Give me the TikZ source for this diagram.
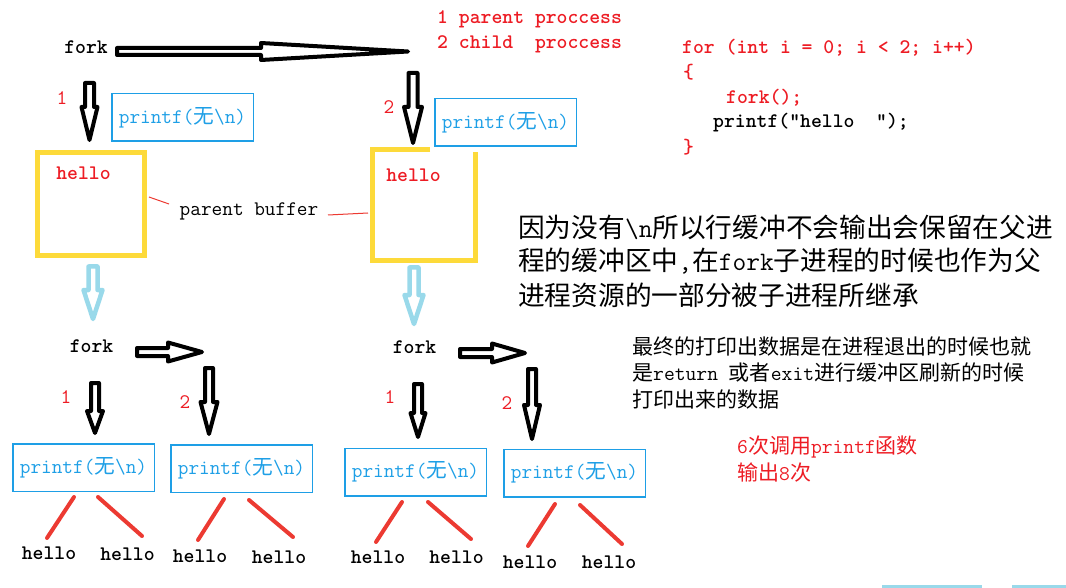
\documentclass[tikz,border=0pt]{standalone}
\usepackage{fontspec}
\newfontfamily\cjk{Noto Sans CJK SC}
\usetikzlibrary{calc}
\definecolor{pred}{HTML}{ED1C24}
\definecolor{lred}{HTML}{EC3A32}
\definecolor{pblue}{HTML}{1E9FE6}
\definecolor{lblue}{HTML}{99D9EA}
\definecolor{gold}{HTML}{FDDA3A}
\newcommand\tfs{\fontsize{20.7}{24}\selectfont}
\newcommand\mybs{\textbackslash}
\newcommand\varrow[7][hollow]{\draw[#1] (#2-#6,#3) -- (#2+#6,#3) -- (#2+#6,#4) -- (#2+#7,#4) -- (#2,#5) -- (#2-#7,#4) -- (#2-#6,#4) -- cycle;}
\newcommand\harrow[6]{\draw[hollow] (#2,#1-#5) -- (#3,#1-#5) -- (#3,#1-#6) -- (#4,#1) -- (#3,#1+#6) -- (#3,#1+#5) -- (#2,#1+#5) -- cycle;}
\tikzset{
 tt/.style={font=\ttfamily\tfs, inner sep=0pt},
 ttb/.style={font=\ttfamily\bfseries\tfs, inner sep=0pt},
 hollow/.style={draw=black, line width=4pt, fill=white, line join=round},
 lhollow/.style={draw=lblue, line width=4.5pt, fill=white, line join=round},
 ybox/.style={draw=gold, line width=5pt},
 pbox/.style={draw=pblue, line width=1.5pt, text=pblue, minimum width=141.5pt, minimum height=47.5pt, inner sep=0pt, font=\ttfamily\tfs},
 rline/.style={draw=lred, line width=4pt, line cap=round},
 thinr/.style={draw=lred, line width=1pt},
 cjkpar/.style={font=\cjk\fontsize{26.7}{30}\selectfont, anchor=west, inner sep=0pt},
 cjknote/.style={font=\cjk\fontsize{21}{24}\selectfont, anchor=west, inner sep=0pt},
}
\begin{document}
\begin{tikzpicture}[x=1pt,y=-1pt]
\path[use as bounding box] (0,0) rectangle (1066,588);

% ---------- top level ----------
\node[ttb] (fork0) at (86,47) {fork};
\harrow{51.5}{117}{261}{408}{3.5}{8.5}
\node[ttb, text=pred, anchor=west] (l1) at (437,19) {1 parent proccess};
\node[ttb, text=pred, anchor=west] (l2) at (437,44) {2 child\ \ proccess};

% code
\node[ttb, text=pred, anchor=west] (c1) at (682,48) {for (int i = 0; i < 2; i++)};
\node[ttb, text=pred, anchor=west] (c2) at (683,72) {\{};
\node[ttb, text=pred, anchor=west] (c3) at (726,98) {fork();};
\node[ttb, text=black, anchor=west] (c4) at (713,123) {printf("hello\ \ ");};
\node[ttb, text=pred, anchor=west] (c5) at (683,147) {\}};

% first-level arrows
\varrow{89.5}{83}{107}{140}{4.5}{8}
\node[tt, text=pred] (n1) at (62,98) {1};
\varrow{413}{73}{107}{143}{4.5}{9}
\node[tt, text=pred] (n2) at (389,107) {2};

\node[pbox] (pb1) at (182.5,117.5) {printf({\cjk 无}\mybs n)};
\node[pbox] (pb2) at (505.5,122.5) {printf({\cjk 无}\mybs n)};

% yellow buffers
\draw[ybox] (37,152.5) rectangle (144.5,255.5);
\draw[ybox] (430,149.5) -- (372.5,149.5) -- (372.5,260.5) -- (475.5,260.5) -- (475.5,152);
\node[ttb, text=pred] (hb1) at (83.5,173) {hello};
\node[ttb, text=pred] (hb2) at (413.5,175) {hello};

\node[tt] (pbuf) at (249,211) {parent buffer};
\draw[thinr] (149,197) -- (169,204);
\draw[thinr] (328,215) -- (368,213);

% light blue arrows
\varrow[lhollow]{93}{266.5}{290}{319}{4.5}{9.5}
\varrow[lhollow]{414}{267.5}{295}{324}{4.5}{9.5}

% ---------- second level, left ----------
\node[ttb] (fork1) at (91.5,346) {fork};
\harrow{352}{137}{168}{202}{4}{9.5}
\varrow{95}{383}{411}{433}{4}{8}
\node[tt, text=pred] (n3) at (66,397) {1};
\varrow{209}{368}{402}{434}{4}{8.5}
\node[tt, text=pred] (n4) at (185,402) {2};
\node[pbox] (pb3) at (83.5,467.5) {printf({\cjk 无}\mybs n)};
\node[pbox] (pb4) at (241.5,468.5) {printf({\cjk 无}\mybs n)};

% ---------- second level, right ----------
\node[ttb] (fork2) at (414.5,347) {fork};
\harrow{353}{460}{492}{525}{4}{9.5}
\varrow{418}{384}{413}{437}{4}{7.5}
\node[tt, text=pred] (n5) at (390,397) {1};
\varrow{532}{369}{405}{439}{4}{8}
\node[tt, text=pred] (n6) at (507,403) {2};
\node[pbox] (pb5) at (415.5,472) {printf({\cjk 无}\mybs n)};
\node[pbox] (pb6) at (574.5,473) {printf({\cjk 无}\mybs n)};

% hellos
\node[ttb] (h1) at (49,553) {hello};
\node[ttb] (h2) at (127.5,554) {hello};
\node[ttb] (h3) at (200,556) {hello};
\node[ttb] (h4) at (279,557) {hello};
\node[ttb] (h5) at (378,557) {hello};
\node[ttb] (h6) at (456.5,557) {hello};
\node[ttb] (h7) at (530,562) {hello};
\node[ttb] (h8) at (609,562) {hello};

\coordinate (a1) at (74,497); \coordinate (a2) at (47,538);
\coordinate (b1) at (98,497); \coordinate (b2) at (142,536);
\coordinate (c1s) at (224,499); \coordinate (c2s) at (198,540);
\coordinate (d1) at (249,500); \coordinate (d2) at (293,537);
\coordinate (e1) at (402,502); \coordinate (e2) at (376,542);
\coordinate (f1) at (428,502); \coordinate (f2) at (471,539);
\coordinate (g1) at (555,504); \coordinate (g2) at (528,546);
\coordinate (k1) at (580,505); \coordinate (k2) at (622,544);
\draw[rline] (a1) -- (a2);
\draw[rline] (b1) -- (b2);
\draw[rline] (c1s) -- (c2s);
\draw[rline] (d1) -- (d2);
\draw[rline] (e1) -- (e2);
\draw[rline] (f1) -- (f2);
\draw[rline] (g1) -- (g2);
\draw[rline] (k1) -- (k2);

% ---------- explanations ----------
\node[cjkpar] (p1) at (518,227) {因为没有{\ttfamily\mybs n}所以行缓冲不会输出会保留在父进};
\node[cjkpar] (p2) at (518,261) {程的缓冲区中{\ttfamily ,}在{\ttfamily fork}子进程的时候也作为父};
\node[cjkpar] (p3) at (518,295) {进程资源的一部分被子进程所继承};

\node[cjknote] (q1) at (632,347) {最终的打印出数据是在进程退出的时候也就};
\node[cjknote] (q2) at (632,373) {是{\ttfamily return\ }或者{\ttfamily exit}进行缓冲区刷新的时候};
\node[cjknote] (q3) at (632,400) {打印出来的数据};

\node[cjknote, text=pred] (r1) at (737,447) {{\ttfamily 6}次调用{\ttfamily printf}函数};
\node[cjknote, text=pred] (r2) at (737,473) {输出{\ttfamily 8}次};

% bottom edge bars
\fill[lblue] (882,585) rectangle (982,588);
\fill[lblue] (1012,585) rectangle (1066,588);
\end{tikzpicture}
\end{document}
